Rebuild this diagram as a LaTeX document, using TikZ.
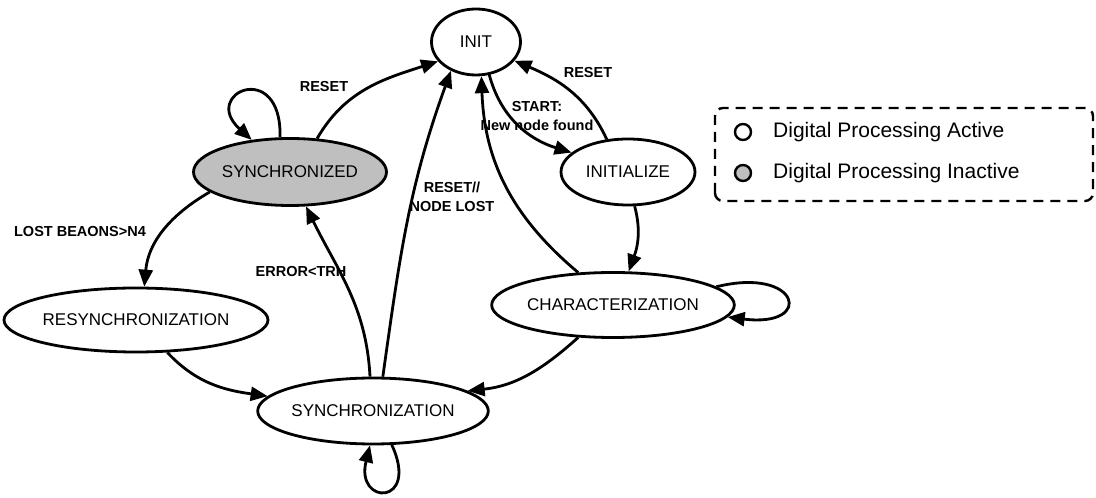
\documentclass[tikz,border=0pt]{standalone}
\usepackage{fontspec}
\setmainfont{Liberation Sans}
\usetikzlibrary{arrows.meta,shapes.geometric}
\definecolor{inactive}{gray}{0.75}
\begin{document}
\begin{tikzpicture}[x=1pt,y=1pt,
  state/.style={ellipse,draw,line width=2.8pt,inner sep=0pt,fill=white,
    font=\fontsize{17}{20}\selectfont},
  edge/.style={line width=2.8pt,line join=round,-{Triangle[length=17pt,width=14pt]}},
  lbl/.style={font=\fontsize{14.5}{18.5}\selectfont\bfseries,align=center,inner sep=0pt},
  legendmark/.style={circle,draw,line width=2.4pt,minimum size=16pt,inner sep=0pt},
  legendtext/.style={font=\fontsize{21}{24}\selectfont,anchor=west,inner sep=0pt}]
\useasboundingbox (0,0) rectangle (1096,498);

% states
\node[state,minimum width=89pt,minimum height=66pt] (init) at (476,456) {INIT};
\node[state,fill=inactive,minimum width=193pt,minimum height=67pt] (synced) at (290,326) {SYNCHRONIZED};
\node[state,minimum width=134pt,minimum height=66pt] (initialize) at (628,326) {INITIALIZE};
\node[state,minimum width=239pt,minimum height=65pt] (charac) at (613,193) {CHARACTERIZATION};
\node[state,minimum width=251pt,minimum height=64pt] (resync) at (136,178) {RESYNCHRONIZATION};
\node[state,minimum width=216pt,minimum height=66pt] (sync) at (373,87) {SYNCHRONIZATION};

% transitions
\draw[edge] (synced.106) .. controls (282,440) and (200,405) .. (synced.140);
\draw[edge] (synced.51) to[out=60,in=198] (init.207);
\draw[edge] (init.292) to[out=-75,in=163] (initialize.161);
\draw[edge] (initialize.123) to[out=115,in=-23] (init.334);
\draw[edge] (sync.74) to[out=82,in=250] (init.229);
\draw[edge] (sync.95) to[out=93,in=-64] (synced.295);
\draw[edge] (charac.137) to[out=140,in=-88] (init.279);
\draw[edge] (initialize.281) to[out=-75,in=70] (charac.65);
\draw[edge] (charac.10) .. controls (800,232) and (815,170) .. (charac.354);
\draw[edge] (charac.223) to[out=222,in=6] (sync.12);
\draw[edge] (synced.194) to[out=210,in=85] (resync.76);
\draw[edge] (resync.314) to[out=-47,in=172] (sync.172);
\draw[edge] (sync.299) .. controls (420,-8) and (355,-8) .. (sync.265);

% transition labels
\node[lbl] (lreset1) at (324,411) {RESET};
\node[lbl] (lstart) at (537,382) {START:\\New node found};
\node[lbl] (lreset2) at (588,425) {RESET};
\node[lbl] (lnodelost) at (452,301) {RESET//\\NODE LOST};
\node[lbl] (lerror) at (301,226) {ERROR<TRH};
\node[lbl] (llost) at (80,266) {LOST BEAONS>N4};

% legend
\draw[line width=2.4pt,dash pattern=on 10pt off 7pt,rounded corners=8pt]
  (715,297) rectangle (1093,390);
\node[legendmark,fill=white] (kact) at (743,366) {};
\node[legendtext] (tact) at (773,366) {Digital Processing Active};
\node[legendmark,fill=inactive] (kinact) at (743,325) {};
\node[legendtext] (tinact) at (773,325) {Digital Processing Inactive};
\end{tikzpicture}
\end{document}
